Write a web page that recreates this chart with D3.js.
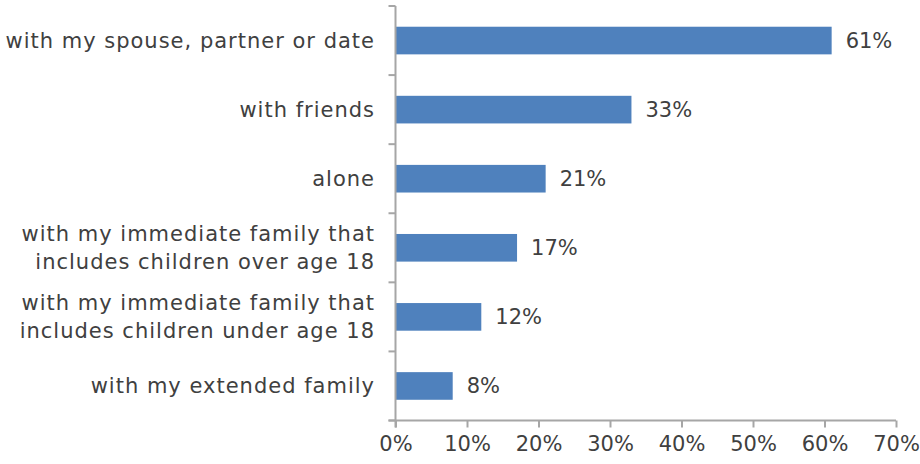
<!DOCTYPE html>
<html><head><meta charset="utf-8">
<script src="https://cdn.jsdelivr.net/npm/d3@7"></script>
<style>body{margin:0;background:#fff}svg{display:block}</style>
</head><body>
<svg id="c" width="920" height="464"></svg>
<script>
const categories = [
  ["with my spouse, partner or date"],
  ["with friends"],
  ["alone"],
  ["with my immediate family that", "includes children over age 18"],
  ["with my immediate family that", "includes children under age 18"],
  ["with my extended family"]
];
const values = [61, 33, 21, 17, 12, 8];
const valueLabels = ["61%", "33%", "21%", "17%", "12%", "8%"];
const tickValues = [0, 10, 20, 30, 40, 50, 60, 70];
const tickLabels = ["0%", "10%", "20%", "30%", "40%", "50%", "60%", "70%"];

(function () {
const svg = d3.select("#c");
const mLeft = 395.5, mRight = 896, mTop = 6, mBottom = 420.5;
const font = "'DejaVu Sans', sans-serif";
const fs = "21px";
const textColor = "#404040";
const axisColor = "#a6a6a6";

const x = d3.scaleLinear().domain([0, 70]).range([mLeft, mRight]);
const y = d3.scaleBand().domain(d3.range(categories.length)).range([mTop, mBottom]).paddingInner(0.6).paddingOuter(0.3);

// bars
svg.append("g").selectAll("rect").data(values).join("rect")
  .attr("x", x(0)).attr("y", (d, i) => y(i))
  .attr("width", d => x(d) - x(0)).attr("height", y.bandwidth())
  .attr("fill", "#4f81bd");

// y axis line and boundary ticks
const step = (mBottom - mTop) / categories.length;
const g = svg.append("g");
g.append("line").attr("x1", mLeft).attr("x2", mLeft).attr("y1", mTop).attr("y2", mBottom + 7)
  .attr("stroke", axisColor).attr("stroke-width", 2);
g.selectAll("line.yt").data(d3.range(categories.length + 1)).join("line").attr("class", "yt")
  .attr("x1", mLeft - 7).attr("x2", mLeft).attr("y1", i => mTop + i * step).attr("y2", i => mTop + i * step)
  .attr("stroke", axisColor).attr("stroke-width", 2);

// x axis
const xAxis = d3.axisBottom(x).tickValues(tickValues).tickFormat((d, i) => tickLabels[i]).tickSize(7).tickPadding(8);
const xg = svg.append("g").attr("transform", `translate(0,${mBottom})`).call(xAxis);
xg.select(".domain").attr("stroke", axisColor).attr("stroke-width", 2).attr("d", `M${mLeft - 7},0H${mRight}`);
xg.selectAll(".tick line").attr("stroke", axisColor).attr("stroke-width", 2);
xg.selectAll(".tick text").attr("fill", textColor).style("font-family", font).style("font-size", fs).attr("dy", "0.75em");

// category labels
const cl = svg.append("g").selectAll("text").data(categories).join("text")
  .attr("x", 375).attr("text-anchor", "end")
  .attr("fill", textColor).style("font-family", font).style("font-size", fs)
  .style("letter-spacing", "1px");
cl.each(function(lines, i) {
  const t = d3.select(this);
  const cy = y(i) + y.bandwidth() / 2;
  const lh = 28;
  lines.forEach((s, k) => {
    t.append("tspan").attr("x", 375)
      .attr("y", cy + (k - (lines.length - 1) / 2) * lh).attr("dy", "0.35em").text(s);
  });
});

// value labels
svg.append("g").selectAll("text").data(values).join("text")
  .attr("x", d => x(d) + 14).attr("y", (d, i) => y(i) + y.bandwidth() / 2).attr("dy", "0.35em")
  .attr("fill", textColor).style("font-family", font).style("font-size", fs)
  .text((d, i) => valueLabels[i]);
})();
</script>
</body></html>
